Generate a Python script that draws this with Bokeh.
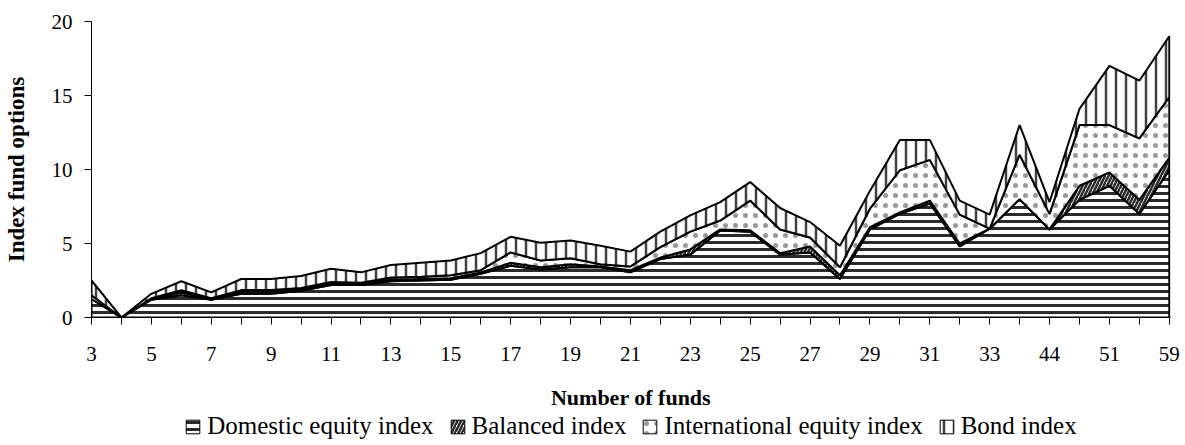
import numpy as np
from bokeh.plotting import figure
from bokeh.layouts import column
from bokeh.models import Range1d, FixedTicker, Legend, LegendItem, Label
from bokeh.embed import file_html
from bokeh.resources import INLINE

# ---- data ----
categories = ["3", "4", "5", "6", "7", "8", "9", "10", "11", "12", "13", "14", "15",
              "16", "17", "18", "19", "20", "21", "22", "23", "24", "25", "26", "27",
              "28", "29", "30", "31", "32", "33", "36", "44", "47", "51", "55", "59"]

domestic = [1.25, 0, 1.2, 1.5, 1.2, 1.6, 1.6, 1.8, 2.2, 2.2, 2.45, 2.5, 2.55, 2.95,
            3.5, 3.25, 3.4, 3.4, 3.05, 3.95, 4.25, 5.88, 5.8, 4.25, 4.4, 2.6, 5.95,
            7.0, 7.7, 4.8, 6.0, 8.0, 5.95, 7.95, 8.9, 7.0, 9.95]
balanced = [0, 0, 0.05, 0.2, 0.05, 0.15, 0.15, 0.1, 0.1, 0.05, 0.1, 0.1, 0.1, 0.1,
            0.2, 0.15, 0.2, 0.05, 0.15, 0.1, 0.35, 0.07, 0.1, 0.1, 0.4, 0.25, 0.15,
            0.1, 0.2, 0.2, 0, 0, 0, 0.95, 0.9, 0.95, 0.85]
international = [0.25, 0, 0.05, 0.15, 0.05, 0.1, 0.1, 0.1, 0.1, 0.1, 0.15, 0.15, 0.2,
                 0.15, 0.7, 0.45, 0.4, 0.15, 0.25, 0.7, 1.2, 0.6, 2.0, 1.6, 0.6, 0.55,
                 1.25, 2.85, 2.75, 1.95, 0, 3.0, 1.05, 4.1, 3.2, 4.15, 4.1]
bond = [1.0, 0, 0.3, 0.6, 0.4, 0.75, 0.75, 0.8, 0.9, 0.7, 0.85, 0.95, 1.0, 1.15, 1.05,
        1.2, 1.2, 1.25, 1.0, 1.05, 1.1, 1.25, 1.25, 1.45, 1.05, 1.45, 1.2, 2.05, 1.35,
        0.95, 0.95, 2.0, 0.8, 1.1, 4.0, 3.9, 4.1]

series_names = ["Domestic equity index", "Balanced index",
                "International equity index", "Bond index"]
y_ticks = [0, 5, 10, 15, 20]
x_title = "Number of funds"
y_title = "Index fund options"

# ---- styles ----
styles = [
    dict(hatch_pattern="horizontal_line", hatch_color="#2a2a2a", hatch_scale=7, hatch_weight=3),
    dict(hatch_pattern="right_diagonal_line", hatch_color="#2a2a2a", hatch_scale=7, hatch_weight=2.5),
    dict(hatch_pattern="dot", hatch_color="#999999", hatch_scale=10, hatch_weight=1.5),
    dict(hatch_pattern="vertical_line", hatch_color="#404040", hatch_scale=10, hatch_weight=2.5),
]

SERIF = "Liberation Serif"
n = len(categories)
x = np.arange(n)

W, H = 1185, 445
LEFT, RIGHT, TOP = 91, 15, 21
FRAME_BOTTOM = 317
H1 = FRAME_BOTTOM + 62      # chart part
H2 = H - H1                 # x-axis title + legend strip
FRAME_W = W - LEFT - RIGHT

# stacked polygons built from the data
polys = []
base = np.zeros(n)
for vals in [domestic, balanced, international, bond]:
    top = base + np.array(vals, dtype=float)
    polys.append((np.concatenate([x, x[::-1]]), np.concatenate([top, base[::-1]])))
    base = top

# ---- main chart ----
p = figure(width=W, height=H1, output_backend="svg", toolbar_location=None,
           x_range=Range1d(0, n - 1 + 0.04), y_range=Range1d(0, 20),
           min_border_left=LEFT, min_border_right=RIGHT, min_border_top=TOP,
           min_border_bottom=H1 - FRAME_BOTTOM)

for (xs, ys), st in zip(polys, styles):
    p.patch(xs, ys, fill_color="white", line_color="black", line_width=2, **st)

p.xaxis.ticker = FixedTicker(ticks=list(x))
p.xaxis.major_label_overrides = {int(i): (categories[i] if i % 2 == 0 else "") for i in range(n)}
p.yaxis.ticker = FixedTicker(ticks=y_ticks)
for ax in (p.xaxis[0], p.yaxis[0]):
    ax.major_tick_in = 0
    ax.major_tick_out = 7
    ax.minor_tick_in = 0
    ax.minor_tick_out = 0
    ax.axis_line_color = "black"
    ax.major_tick_line_color = "black"
    ax.major_label_text_font = SERIF
    ax.major_label_text_font_size = "21px"
    ax.major_label_text_color = "black"
    ax.axis_label_text_font = SERIF
    ax.axis_label_text_font_style = "bold"
    ax.axis_label_text_color = "black"

p.xaxis.major_label_standoff = 22

p.yaxis.major_label_standoff = 12
p.yaxis.axis_label = y_title
p.yaxis.axis_label_text_font_size = "23px"
p.yaxis.axis_label_standoff = 20

p.xgrid.grid_line_color = None
p.ygrid.grid_line_color = None
p.outline_line_color = None

# ---- strip with the x-axis title and the legend ----
# (legend renderers use the same data, but the strip's ranges keep them out of view)
lg = figure(width=W, height=H2, output_backend="svg", toolbar_location=None,
            x_axis_type=None, y_axis_type=None,
            x_range=Range1d(1000, 1001), y_range=Range1d(1000, 1001),
            min_border_left=LEFT, min_border_right=RIGHT, min_border_top=0, min_border_bottom=0)
lg.xgrid.grid_line_color = None
lg.ygrid.grid_line_color = None
lg.outline_line_color = None

center_x = FRAME_W / 2      # screen units are relative to the (aligned) frame
lg.add_layout(Label(x=center_x, y=H2 - 17.5, x_units="screen", y_units="screen",
                    text=x_title, text_align="center", text_baseline="middle",
                    text_font=SERIF, text_font_style="bold", text_font_size="22px",
                    text_color="black"))

items = []
for name, (xs, ys), st in zip(series_names, polys, styles):
    r = lg.patch(xs, ys, fill_color="white", line_color="black", line_width=1, **st)
    items.append(LegendItem(label=name, renderers=[r]))

glyph, standoff, spacing, fsize = 17, 6, 15, 25
em_widths = [9.055, 6.193, 10.332, 4.639]   # Times-metric label widths in em
legend_w = sum(glyph + standoff + w * fsize for w in em_widths) + spacing * 3
legend = Legend(items=items, orientation="horizontal",
                location=(center_x - legend_w / 2, 5),
                label_text_font=SERIF, label_text_font_size=f"{fsize}px", label_text_color="black",
                glyph_width=glyph, glyph_height=glyph, label_standoff=standoff, spacing=spacing,
                padding=0, margin=0, border_line_color=None, background_fill_alpha=0)
lg.add_layout(legend)

layout = column(p, lg, spacing=0)
open("out.html", "w").write(file_html(layout, INLINE))
